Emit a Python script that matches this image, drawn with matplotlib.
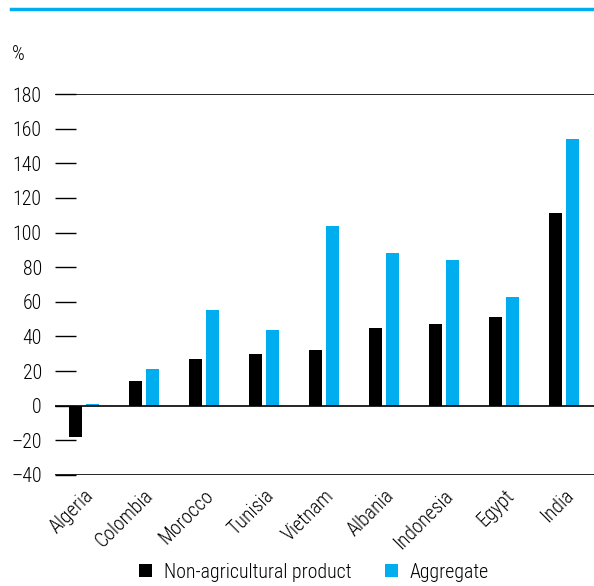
import matplotlib
matplotlib.use("Agg")
import matplotlib.pyplot as plt
import numpy as np
from matplotlib.lines import Line2D
from matplotlib.patches import Patch

categories = ["Algeria", "Colombia", "Morocco", "Tunisia", "Vietnam",
              "Albania", "Indonesia", "Egypt", "India"]
non_agri = [-18, 14, 27, 30, 32, 45, 47, 51, 111]
aggregate = [1, 21, 55, 44, 104, 88, 84, 63, 154]
yticks = [-40, -20, 0, 20, 40, 60, 80, 100, 120, 140, 160, 180]
ytick_labels = ["\u201340", "\u201320", "0", "20", "40", "60", "80", "100",
                "120", "140", "160", "180"]

plt.rcParams['font.family'] = ['Roboto Condensed', 'DejaVu Sans']
plt.rcParams['font.weight'] = 'light'

BLACK = "#000000"
BLUE = "#00AEEF"
FS = 14.3

fig = plt.figure(figsize=(5.94, 5.86), dpi=100)
ax = fig.add_axes([55/594, 1-475/586, 1-55/594, (475-94)/586])

x = np.arange(len(categories))
w = 0.217
off = 0.142
ax.bar(x - off, non_agri, width=w, color=BLACK, zorder=3)
ax.bar(x + off, aggregate, width=w, color=BLUE, zorder=3)

ax.set_xlim(-0.48, 8.5)
ax.set_ylim(-40, 180)
for v in (180, 0, -40):
    ax.axhline(v, color="black", lw=1.2, zorder=4)

for s in ax.spines.values():
    s.set_visible(False)
ax.set_yticks(yticks)
ax.set_yticklabels(ytick_labels)
ax.tick_params(axis='y', direction='in', length=15, width=1, pad=9.5,
               labelsize=FS, color='black')
ax.set_xticks(x)
ax.set_xticklabels(categories, rotation=45, ha='right', rotation_mode='anchor',
                   fontsize=FS)
ax.tick_params(axis='x', length=0, pad=8)

fig.text(12/594, 1-55/586, "%", fontsize=FS, va='center', ha='left')

# top blue rule
fig.add_artist(Line2D([11/594, 1.0], [1-9/586, 1-9/586], color=BLUE, lw=2.5,
                      transform=fig.transFigure))

handles = [Patch(facecolor=BLACK, label="Non-agricultural product"),
           Patch(facecolor=BLUE, label="Aggregate")]
fig.legend(handles=handles, loc='center', bbox_to_anchor=(314/594, 1-572/586),
           ncol=2, frameon=False, fontsize=FS, handlelength=0.66, handleheight=0.66,
           columnspacing=1.65, handletextpad=0.6)

fig.savefig("out.png", dpi=100)
